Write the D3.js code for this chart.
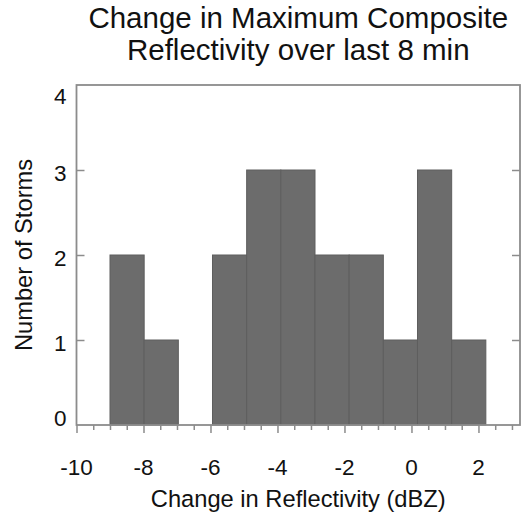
<!DOCTYPE html>
<html>
<head>
<meta charset="utf-8">
<script src="https://cdn.jsdelivr.net/npm/d3@7"></script>
<style>
  html, body { margin: 0; padding: 0; background: #fff; }
  svg text { font-family: "Liberation Sans", Arial, Helvetica, sans-serif; fill: #111; }
</style>
</head>
<body>
<svg id="chart" width="522" height="517"></svg>
<script>
// histogram of storm reflectivity change
var titleLines = ["Change in Maximum Composite", "Reflectivity over last 8 min"];
var xLabel = "Change in Reflectivity (dBZ)";
var yLabel = "Number of Storms";

var binEdges = [-9, -7.98, -6.96, -5.94, -4.92, -3.90, -2.88, -1.86, -0.84, 0.18, 1.20, 2.22];
var counts   = [2, 1, 0, 2, 3, 3, 2, 2, 1, 3, 1];

var xMajorTicks = [-10, -8, -6, -4, -2, 0, 2];
var xMinorTicks = [-9.5, -9, -8.5, -7.5, -7, -6.5, -5.5, -5, -4.5, -3.5, -3, -2.5,
                   -1.5, -1, -0.5, 0.5, 1, 1.5, 2.5, 3];
var yTicks = [0, 1, 2, 3, 4];

var margin = { left: 76.5, right: 2, top: 85, bottom: 92 };
var W = 522, H = 517;
var svg = d3.select("#chart");

var x = d3.scaleLinear().domain([-10, 3.24]).range([margin.left, W - margin.right]);
var y = d3.scaleLinear().domain([0, 4]).range([H - margin.bottom, margin.top]);

var frameColor = "#8c8c8c";

// bars
var bins = counts.map(function (c, i) {
    return { x0: binEdges[i], x1: binEdges[i + 1], n: c };
});
svg.append("g").selectAll("rect")
    .data(bins.filter(function (d) { return d.n > 0; }))
    .join("rect")
    .attr("x", function (d) { return x(d.x0); })
    .attr("width", function (d) { return x(d.x1) - x(d.x0); })
    .attr("y", function (d) { return y(d.n); })
    .attr("height", function (d) { return y(0) - y(d.n); })
    .attr("fill", "#6c6c6c")
    .attr("stroke", "#5e5e5e")
    .attr("stroke-width", 1);

// bottom axis: major + minor ticks pointing out
var xAxisG = svg.append("g").attr("transform", "translate(0," + y(0) + ")");
xAxisG.call(d3.axisBottom(x).tickValues(xMinorTicks).tickSize(5).tickFormat(""));
xAxisG.call(function (g) {
    g.append("g").call(d3.axisBottom(x).tickValues(xMajorTicks).tickSize(8).tickFormat(""));
});
xAxisG.selectAll(".domain").remove();
xAxisG.selectAll("line").attr("stroke", frameColor).attr("stroke-width", 1.5);

svg.append("g").selectAll("text")
    .data(xMajorTicks)
    .join("text")
    .attr("x", function (d) { return x(d); })
    .attr("y", 475)
    .attr("text-anchor", "middle")
    .style("font-size", "22.5px")
    .text(function (d) { return d; });

// left axis ticks point in
var yAxisG = svg.append("g").attr("transform", "translate(" + x(-10) + ",0)");
yAxisG.call(d3.axisRight(y).tickValues([1, 2, 3]).tickSize(8).tickFormat(""));
yAxisG.selectAll(".domain").remove();
yAxisG.selectAll("line").attr("stroke", frameColor).attr("stroke-width", 1.5);

var yAxisR = svg.append("g").attr("transform", "translate(" + x(3.24) + ",0)");
yAxisR.call(d3.axisLeft(y).tickValues([1, 2, 3]).tickSize(8).tickFormat(""));
yAxisR.selectAll(".domain").remove();
yAxisR.selectAll("line").attr("stroke", frameColor).attr("stroke-width", 1.5);

svg.append("g").selectAll("text")
    .data(yTicks)
    .join("text")
    .attr("x", x(-10) - 10)
    .attr("y", function (d) {
        var c = Math.max(margin.top + 11, Math.min(y(0) - 7, y(d) + 3));
        return c;
    })
    .attr("dy", "0.35em")
    .attr("text-anchor", "end")
    .style("font-size", "22.5px")
    .text(function (d) { return d; });

// frame
svg.append("rect")
    .attr("x", x(-10))
    .attr("y", y(4))
    .attr("width", x(3.24) - x(-10))
    .attr("height", y(0) - y(4))
    .attr("fill", "none")
    .attr("stroke", frameColor)
    .attr("stroke-width", 1.8);

// titles
svg.append("g").selectAll("text")
    .data(titleLines)
    .join("text")
    .attr("x", (x(-10) + x(3.24)) / 2)
    .attr("y", function (d, i) { return 28 + i * 32; })
    .attr("text-anchor", "middle")
    .style("font-size", "29.5px")
    .text(function (d) { return d; });

svg.append("text")
    .attr("x", (x(-10) + x(3.24)) / 2)
    .attr("y", 507)
    .attr("text-anchor", "middle")
    .style("font-size", "23.7px")
    .text(xLabel);

svg.append("text")
    .attr("transform", "translate(32," + (y(0) + y(4)) / 2 + ") rotate(-90)")
    .attr("text-anchor", "middle")
    .style("font-size", "23.7px")
    .text(yLabel);
</script>
</body>
</html>
